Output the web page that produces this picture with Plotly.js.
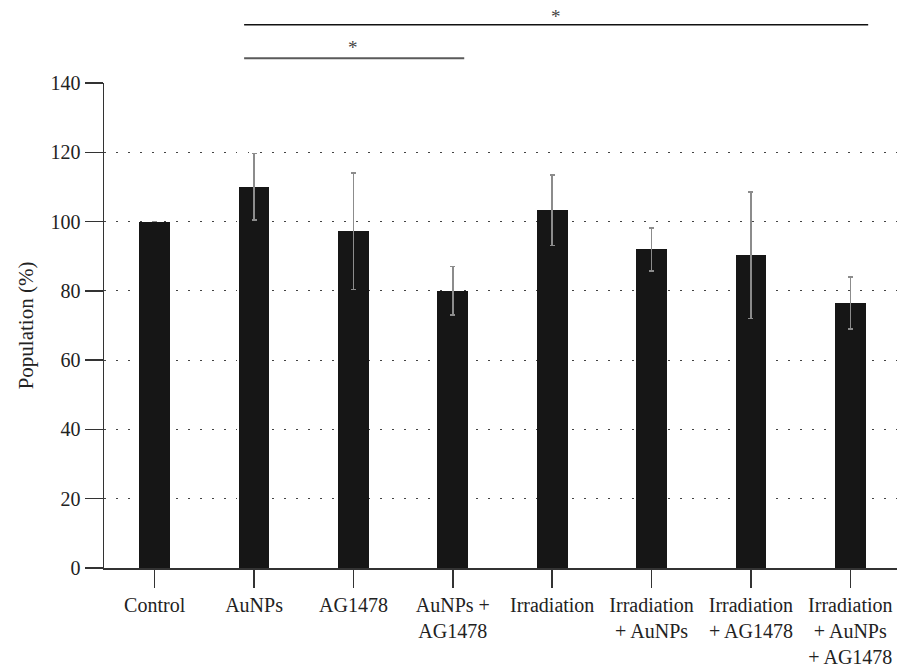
<!DOCTYPE html>
<html>
<head>
<meta charset="utf-8">
<script src="https://cdn.plot.ly/plotly-3.0.1.min.js"></script>
<style>html,body{margin:0;padding:0;background:#fff;}#chart{width:897px;height:667px;}</style>
</head>
<body>
<div id="chart"></div>
<script>
const categories = ["Control", "AuNPs", "AG1478", "AuNPs +<br>AG1478", "Irradiation", "Irradiation<br>+ AuNPs", "Irradiation<br>+ AG1478", "Irradiation<br>+ AuNPs<br>+ AG1478"];
const populationValues = [100, 110, 97.2, 80, 103.3, 92, 90.3, 76.5];
const errorValues = [null, 9.6, 16.8, 7, 10.2, 6.2, 18.3, 7.5];
const yTickValues = [0, 20, 40, 60, 80, 100, 120, 140];

const serif = "'Liberation Serif', 'Times New Roman', 'DejaVu Serif', serif";
const xIdx = categories.map((c, i) => i);

const trace = {
  type: "bar",
  x: xIdx,
  y: populationValues,
  width: 0.31,
  marker: {color: "#161616", line: {width: 0}},
  error_y: {type: "data", array: errorValues, visible: true, color: "#8c8c8c", thickness: 1.5, width: 2.5},
  hoverinfo: "none"
};

const layout = {
  width: 897, height: 667,
  margin: {l: 104, r: 0, t: 83, b: 99},
  paper_bgcolor: "#fff", plot_bgcolor: "#fff",
  showlegend: false,
  font: {family: serif, size: 20, color: "#222"},
  bargap: 0,
  xaxis: {
    range: [-0.51, 7.47],
    tickmode: "array", tickvals: xIdx, ticktext: categories,
    ticks: "outside", ticklen: 18, tickwidth: 1.5, tickcolor: "#333",
    showline: true, linecolor: "#333", linewidth: 1.5,
    showgrid: false, zeroline: false,
    tickfont: {family: serif, size: 20, color: "#222"},
    fixedrange: true
  },
  yaxis: {
    range: [0, 140],
    tickmode: "array", tickvals: yTickValues,
    ticks: "outside", ticklen: 18, tickwidth: 1.5, tickcolor: "#333",
    showline: true, linecolor: "#333", linewidth: 1.5,
    showgrid: true, gridcolor: "#444", gridwidth: 1.2, griddash: "1.5px,10.5px",
    zeroline: false,
    tickfont: {family: serif, size: 20, color: "#222"},
    title: {text: "Population (%)", font: {family: serif, size: 21, color: "#222"}, standoff: 11},
    fixedrange: true
  },
  shapes: [
    {type: "line", xref: "x", yref: "paper", x0: 0.9, x1: 7.18, y0: 1.12, y1: 1.12, line: {color: "#111", width: 1.6}},
    {type: "line", xref: "x", yref: "paper", x0: 0.9, x1: 3.115, y0: 1.051, y1: 1.051, line: {color: "#5a5a5a", width: 2}}
  ],
  annotations: [
    {xref: "x", yref: "paper", x: 4.04, y: 1.163, text: "*", showarrow: false, yanchor: "top", font: {family: serif, size: 19, color: "#444"}},
    {xref: "x", yref: "paper", x: 2.0, y: 1.098, text: "*", showarrow: false, yanchor: "top", font: {family: serif, size: 19, color: "#444"}}
  ]
};

Plotly.newPlot("chart", [trace], layout, {displayModeBar: false, staticPlot: true});
</script>
</body>
</html>
